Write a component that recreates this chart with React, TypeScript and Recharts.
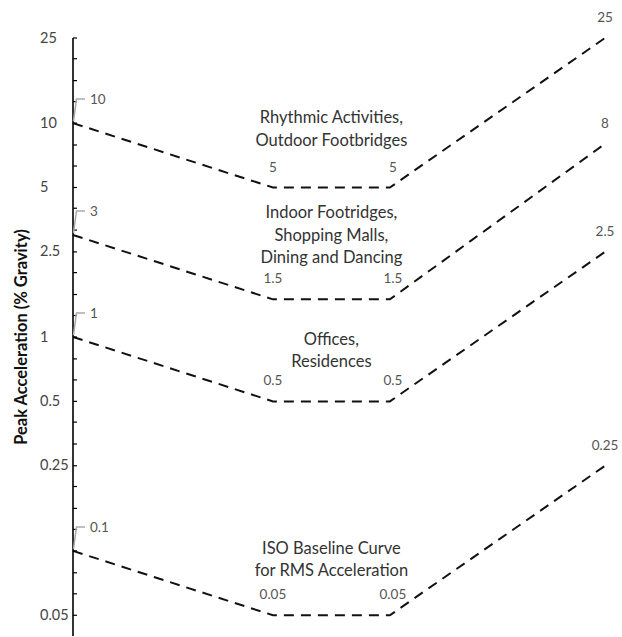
import { LineChart, Line, XAxis, YAxis, LabelList, ReferenceDot } from 'recharts'

// frequency breakpoints (Hz) shared by every curve
const freqs = [1, 4, 9, 40]

const rhythmicValues = [10, 5, 5, 25]
const indoorValues = [3, 1.5, 1.5, 8]
const officeValues = [1, 0.5, 0.5, 2.5]
const isoValues = [0.1, 0.05, 0.05, 0.25]

const seriesValues = [rhythmicValues, indoorValues, officeValues, isoValues]
const seriesCaptions = [
  ['Rhythmic Activities,', 'Outdoor Footbridges'],
  ['Indoor Footridges,', 'Shopping Malls,', 'Dining and Dancing'],
  ['Offices,', 'Residences'],
  ['ISO Baseline Curve', 'for RMS Acceleration'],
]

const xTicks = [1, 2, 3, 4, 5, 6, 7, 8, 9, 10, 20, 30, 40]
const yTickLabels = [0.05, 0.25, 0.5, 1, 2.5, 5, 10, 25]
const yMinorTicks = [
  0.063, 0.079, 0.1, 0.126, 0.158, 0.2, 0.316, 0.4, 0.63, 0.79, 1.26, 1.58, 2, 3.16, 4, 6.3, 7.9, 12.6,
  15.8, 20,
]
const yTicks = [...yTickLabels, ...yMinorTicks].sort((a, b) => a - b)

// how far above the flat segment each caption's last line sits
const captionLift = [48, 42, 40, 45]

const FONT = 'Lato, "Noto Sans", sans-serif'

function YTick(props: any) {
  const { x, y, payload } = props
  const v = payload.value
  return (
    <g>
      <line x1={x} y1={y} x2={x + 4} y2={y} stroke="#000" strokeWidth={1.2} />
      {yTickLabels.includes(v) && (
        <text x={x - 33} y={y - 1} textAnchor="start" dominantBaseline="central" fontFamily={FONT} fontSize={14.5} fill="#444">
          {String(v)}
        </text>
      )}
    </g>
  )
}

function XTick(props: any) {
  const { x, y, payload } = props
  const len = payload.value === 10 ? 6 : 4
  return <line x1={x} y1={y} x2={x} y2={y - len} stroke="#222" strokeWidth={1.2} />
}

function makePointLabel(values: number[]) {
  return (props: any) => {
    const { index } = props
    const vb = props.viewBox || {}
    const x = vb.x ?? props.x
    const y = vb.y ?? props.y
    const text = String(values[index])
    if (index === 0) {
      return (
        <g>
          <polyline
            points={`${x + 0.5},${y - 2} ${x + 3.5},${y - 24} ${x + 12},${y - 24}`}
            fill="none"
            stroke="#aaa"
            strokeWidth={1.5}
          />
          <text x={x + 17} y={y - 24} dominantBaseline="central" fontFamily={FONT} fontSize={13.5} fill="#555">
            {text}
          </text>
        </g>
      )
    }
    return (
      <text
        x={x + (index === 2 ? 3 : 0)}
        y={y - 21}
        textAnchor="middle"
        dominantBaseline="central"
        fontFamily={FONT}
        fontSize={13.5}
        fill="#555"
      >
        {text}
      </text>
    )
  }
}

function makeCaption(lines: string[], lift: number) {
  return (props: any) => {
    const vb = props.viewBox || {}
    const cx = (vb.x ?? 0) + (vb.width ?? 0) / 2
    const cy = (vb.y ?? 0) + (vb.height ?? 0) / 2
    const n = lines.length
    return (
      <g>
        {lines.map((line, i) => (
          <text
            key={i}
            x={cx}
            y={cy - lift - (n - 1 - i) * 22.5}
            textAnchor="middle"
            dominantBaseline="central"
            fontFamily={FONT}
            fontSize={16.5}
            fill="#333"
          >
            {line}
          </text>
        ))}
      </g>
    )
  }
}

function AxisTitle(props: any) {
  const vb = props.viewBox || {}
  const x = (vb.x ?? 0) + 21
  const y = (vb.y ?? 0) + (vb.height ?? 0) / 2
  return (
    <text
      x={x}
      y={y}
      transform={`rotate(-90, ${x}, ${y})`}
      textAnchor="middle"
      dominantBaseline="central"
      fontFamily={FONT}
      fontWeight="bold"
      fontSize={16.5}
      fill="#111"
    >
      Peak Acceleration (% Gravity)
    </text>
  )
}

export default function App() {
  return (
    <div style={{ position: 'absolute', left: 0, top: 0 }}>
      <LineChart width={622} height={637} margin={{ top: 38, right: 17, bottom: 1, left: 0 }}>
        <XAxis
          type="number"
          dataKey="x"
          scale="log"
          domain={[1, 40]}
          ticks={xTicks}
          height={0}
          tickSize={0}
          tickMargin={0}
          tickLine={false}
          tick={XTick}
          axisLine={{ stroke: '#222', strokeWidth: 1 }}
        />
        <YAxis
          type="number"
          dataKey="y"
          scale="log"
          domain={[0.04, 25]}
          ticks={yTicks}
          width={73}
          tickSize={0}
          tickMargin={0}
          tickLine={false}
          tick={YTick}
          interval={0}
          axisLine={{ stroke: '#000', strokeWidth: 1.6 }}
          label={{ content: AxisTitle }}
        />
        {seriesValues.map((vals, s) => (
          <Line
            key={s}
            data={freqs.map((f, i) => ({ x: f, y: vals[i] }))}
            dataKey="y"
            stroke="#111"
            strokeWidth={2}
            strokeDasharray="10 7"
            dot={false}
            activeDot={false}
            isAnimationActive={false}
          >
            <LabelList dataKey="y" content={makePointLabel(vals)} />
          </Line>
        ))}
        {seriesValues.map((vals, s) => (
          <ReferenceDot
            key={`c${s}`}
            x={Math.sqrt(freqs[1] * freqs[2])}
            y={vals[1]}
            r={0}
            fill="none"
            stroke="none"
            label={makeCaption(seriesCaptions[s], captionLift[s])}
          />
        ))}
      </LineChart>
    </div>
  )
}
